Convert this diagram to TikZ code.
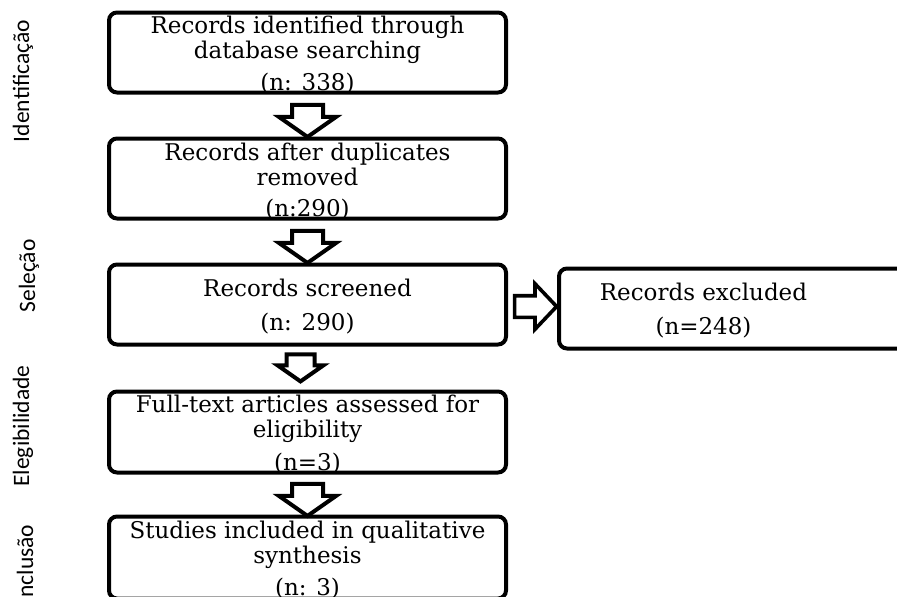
\documentclass[tikz,border=0pt]{standalone}
\usepackage{fontspec}
\setmainfont{DejaVu Serif}
\newfontfamily\phasefont{Carlito}
\usetikzlibrary{positioning,shapes.arrows,calc}

\tikzset{
  boxtext/.style={align=center, inner sep=0pt, yshift=-2.5pt, font=\fontsize{23}{25}\selectfont},
  stage/.style={draw, line width=4pt, rounded corners=8pt, minimum width=397pt,
    minimum height=80pt, inner sep=0pt},
  downarr/.style={draw, fill=white, line width=4pt, single arrow, rotate=-90,
    inner xsep=0pt, inner ysep=13.5pt, single arrow head extend=13pt,
    single arrow tip angle=110, minimum height=32pt},
  rightarr/.style={draw, fill=white, line width=3.6pt, single arrow,
    inner xsep=0pt, inner ysep=9pt, single arrow head extend=12pt,
    single arrow tip angle=93, minimum height=42pt},
  phase/.style={rotate=90, anchor=base, inner sep=0pt,
    font=\phasefont\fontsize{23.5}{28}\selectfont}
}

\begin{document}
\begin{tikzpicture}[x=1pt,y=1pt]
	\clip (0,0) rectangle (897,-597);
	% phases
	\node[phase] (ident) at (29,-81) {Identificação};
	\node[phase] (selec) at (35,-276) {Seleção};
	\node[phase] (elegi) at (29,-426) {Elegibilidade};
	\node[phase] (inclu) at (33,-564) {Inclusão};
	% boxes
	\node[stage, label={[boxtext]center:{Records identified through\\database searching\\[7pt](n: 338)}}] (b1) at (307.5,-52.5) {};
	\node[stage, below=42pt of b1, label={[boxtext, yshift=-1pt]center:{Records after duplicates\\removed\\[6pt](n:290)}}] (b2) {};
	\node[stage, below=42pt of b2, label={[boxtext]center:{Records screened\\[9pt](n: 290)}}] (b3) {};
	\node[stage, below=43pt of b3, minimum height=81pt, label={[boxtext]center:{Full-text articles assessed for\\eligibility\\[8pt](n=3)}}] (b4) {};
	\node[stage, below=40pt of b4, minimum height=82pt, label={[boxtext]center:{Studies included in qualitative\\synthesis\\[7pt](n: 3)}}] (b5) {};
	\node[stage, right=49pt of b3, yshift=-4pt, minimum width=371pt, label={[boxtext, xshift=-41pt]center:{Records excluded\\[9pt](n=248)}}] (excl) {};
	% arrows
	\node[downarr] (a1) at ($(b1.south)!0.5!(b2.north)$) {};
	\node[downarr] (a2) at ($(b2.south)!0.5!(b3.north)$) {};
	\node[downarr, minimum height=27pt, inner ysep=12pt, single arrow head extend=9pt] (a3) at ($(b3.south)!0.5!(b4.north)+(-7,5)$) {};
	\node[downarr] (a4) at ($(b4.south)!0.5!(b5.north)$) {};
	\node[rightarr] (a5) at ($(b3.east)!0.5!(excl.west)+(-2,0)$) {};
\end{tikzpicture}
\end{document}
